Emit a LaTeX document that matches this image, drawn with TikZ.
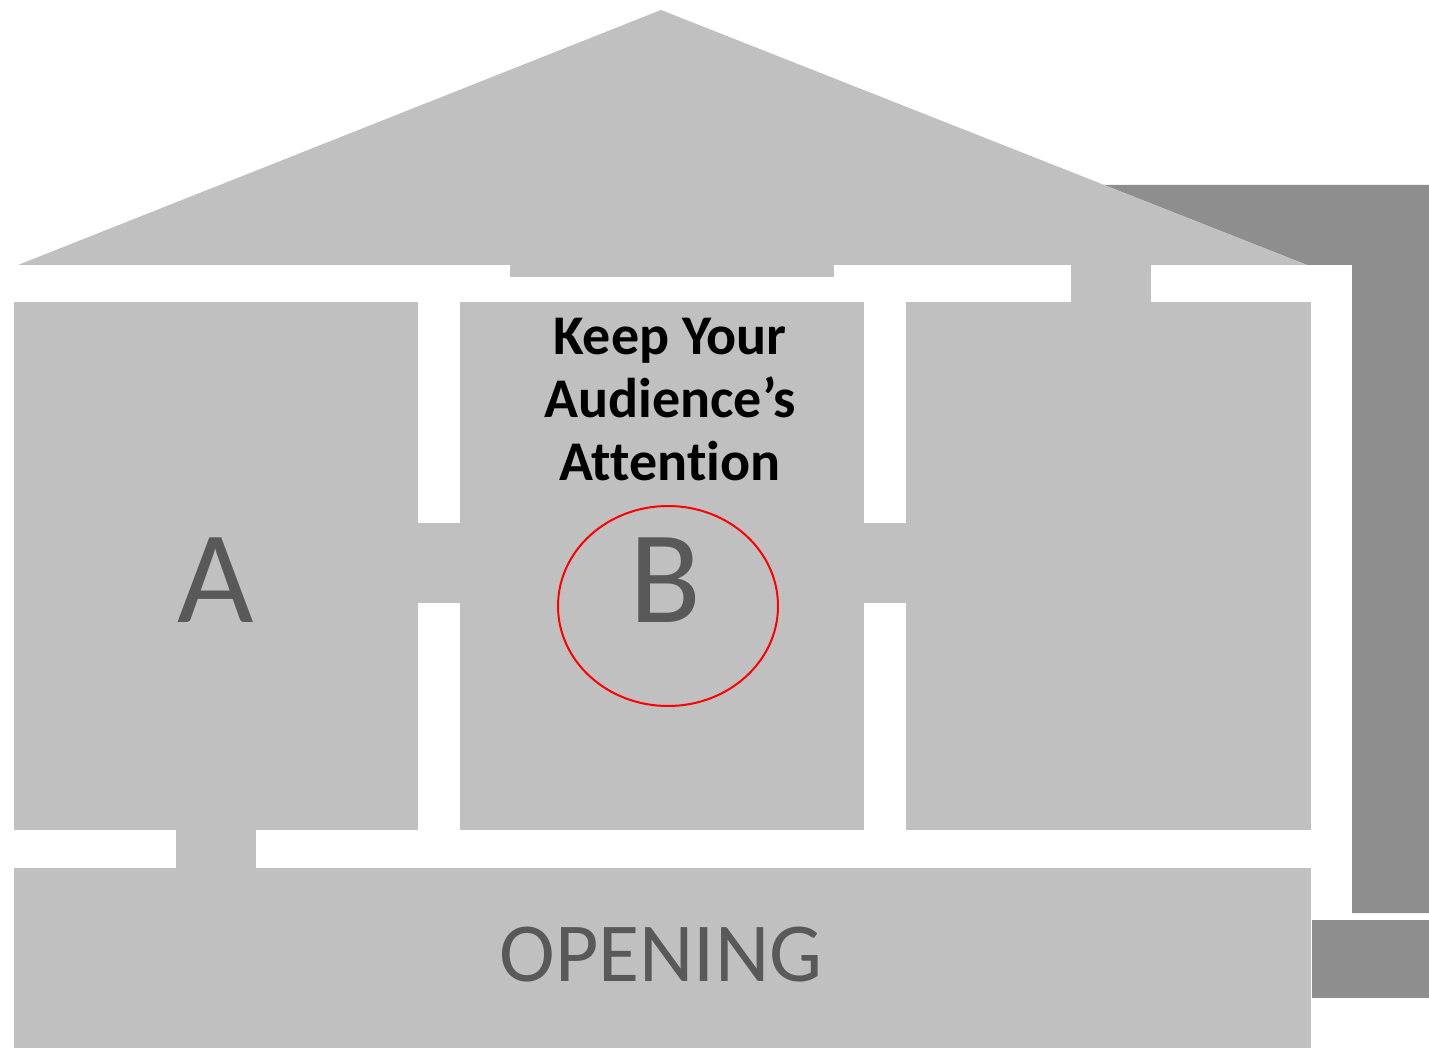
\documentclass[tikz,border=0pt]{standalone}
\usepackage{fontspec}
\setmainfont[Ligatures=NoCommon]{Carlito}
\usepackage{tikz}
\definecolor{wallgray}{HTML}{C0C0C0}
\definecolor{sidegray}{HTML}{8E8E8E}
\definecolor{lettergray}{HTML}{595959}

\begin{document}
\begin{tikzpicture}[
    x=1pt, y=-1pt,
    room/.style={fill=wallgray, draw=none},
    side/.style={fill=sidegray, draw=none},
    bigletter/.style={text=lettergray, font=\fontsize{132}{140}\selectfont, inner sep=0pt},
    title/.style={text=black, align=center, font=\fontsize{56}{63}\selectfont\bfseries, inner sep=0pt},
    marker/.style={draw=red, line width=2pt}
  ]
  \useasboundingbox (0,0) rectangle (1429,1048);

  % dark side wall behind the house
  \fill[side] (1104,185) -- (1429,185) -- (1429,913) -- (1352,913) -- (1352,265) -- (1307,265) -- cycle;
  \fill[side] (1312,920) rectangle (1429,998);

  % roof
  \fill[room] (18,265) -- (661,10) -- (1307,265) -- cycle;
  \fill[room] (510,265) rectangle (834,277);

  % rooms and doorways
  \fill[room] (14,302) rectangle (418,830);
  \fill[room] (460,302) rectangle (864,830);
  \fill[room] (906,302) rectangle (1311,830);
  \fill[room] (14,868) rectangle (1311,1048);
  \fill[room] (418,523) rectangle (460,603);
  \fill[room] (864,523) rectangle (906,603);
  \fill[room] (176,830) rectangle (256,868);
  \fill[room] (1071,265) rectangle (1151,302);

  % labels
  \node[bigletter] (roomA) at (216,580) {A};
  \node[bigletter] (roomB) at (665,580) {B};
  \node[text=lettergray, font=\fontsize{84}{90}\selectfont, inner sep=0pt] (opening) at (661,955) {OPENING};
  \node[title] (keep) at (670,400) {Keep Your\\Audience’s\\Attention};

  \draw[marker] (668,606) ellipse [x radius=110, y radius=100];
\end{tikzpicture}
\end{document}
